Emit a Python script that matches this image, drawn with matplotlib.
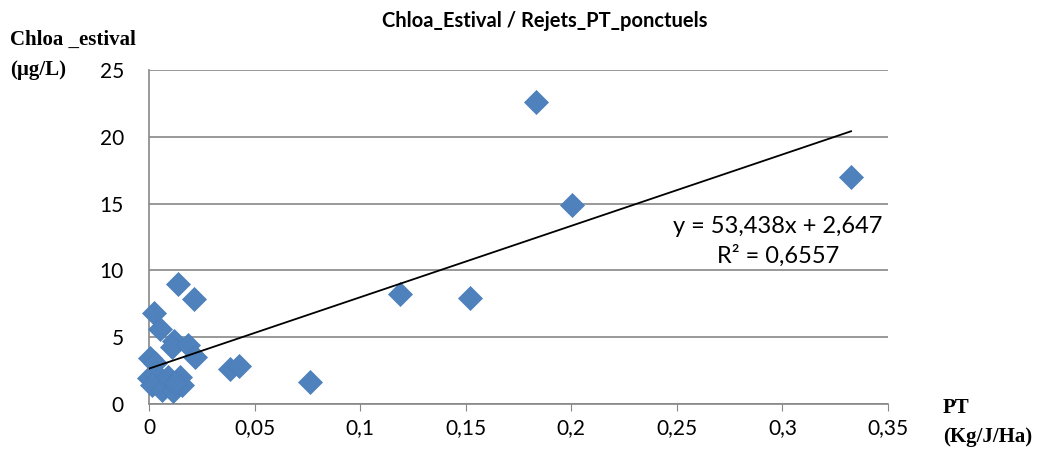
import numpy as np
import matplotlib
matplotlib.use('Agg')
import matplotlib.pyplot as plt
from matplotlib.ticker import FuncFormatter

# PT rejects (Kg/J/Ha) vs summer chlorophyll a (ug/L)
pt = [0.1833, 0.2004, 0.3325, 0.152, 0.119, 0.0763, 0.0384, 0.0426,
      0.0137, 0.0213, 0.0024, 0.0052, 0.0118, 0.011, 0.0185, 0.0218,
      0.0005, 0.003, 0.0, 0.003, 0.0014, 0.0062, 0.0090, 0.0114,
      0.0147, 0.0156, 0.0123]
chloa = [22.6, 14.9, 17.0, 7.93, 8.23, 1.65, 2.6, 2.85,
         9.0, 7.86, 6.8, 5.6, 4.75, 4.3, 4.45, 3.5,
         3.45, 3.05, 1.95, 2.3, 1.4, 1.05, 2.0, 0.95,
         2.0, 1.4, 1.6]

slope = 53.438
intercept = 2.647
r2 = 0.6557

###############################################################################

plt.rcParams['font.family'] = ['Lato', 'DejaVu Sans']

fig = plt.figure(figsize=(10.4, 4.5), dpi=100)
ax = fig.add_axes([149 / 1040, 1 - 404 / 450, (888 - 149) / 1040, (404 - 70) / 450])

ax.plot(pt, chloa, linestyle='none', marker='D', markersize=12,
        color='#4F81BD', markeredgecolor='#4A7EBB', markeredgewidth=0.5,
        zorder=3, clip_on=False)

xfit = np.array([0, max(pt)])
ax.plot(xfit, slope * xfit + intercept, color='black', lw=1.3, zorder=4)

ax.set_xlim(0, 0.35)
ax.set_ylim(0, 25)
ax.set_xticks(np.arange(0, 0.351, 0.05))
ax.set_yticks(np.arange(0, 26, 5))

comma = FuncFormatter(lambda v, p: ('%g' % round(v, 2)).replace('.', ','))
ax.xaxis.set_major_formatter(comma)
ax.yaxis.set_major_formatter(comma)

ax.grid(axis='y', color='#878787', lw=1.2)
ax.set_axisbelow(True)
for s in ['top', 'right']:
    ax.spines[s].set_visible(False)
for s in ['left', 'bottom']:
    ax.spines[s].set_color('#878787')
    ax.spines[s].set_linewidth(1.2)
ax.tick_params(axis='x', length=5, color='#878787', labelsize=15, pad=5)
ax.tick_params(axis='y', length=0, labelsize=15, pad=18)

ax.text(0.2979, 13.3, 'y = %sx + %s' % (('%.3f' % slope).replace('.', ','),
                                      ('%.3f' % intercept).replace('.', ',')),
        ha='center', va='center', fontsize=17)
ax.text(0.2979, 11.1, 'R² = %s' % ('%.4f' % r2).replace('.', ','),
        ha='center', va='center', fontsize=17)

fig.text(545 / 1040, 1 - 21 / 450, 'Chloa_Estival / Rejets_PT_ponctuels',
         ha='center', va='center', fontsize=14.5, fontweight='bold')
serif = ['Liberation Serif', 'DejaVu Serif']
fig.text(10 / 1040, 1 - 40 / 450, 'Chloa _estival', family=serif,
         fontsize=15, fontweight='bold', va='center')
fig.text(10 / 1040, 1 - 70 / 450, '(µg/L)', family=serif,
         fontsize=15, fontweight='bold', va='center')
fig.text(943 / 1040, 1 - 408 / 450, 'PT', family=serif,
         fontsize=15, fontweight='bold', va='center')
fig.text(943 / 1040, 1 - 437 / 450, '(Kg/J/Ha)', family=serif,
         fontsize=15, fontweight='bold', va='center')

fig.savefig('out.png', dpi=100)
